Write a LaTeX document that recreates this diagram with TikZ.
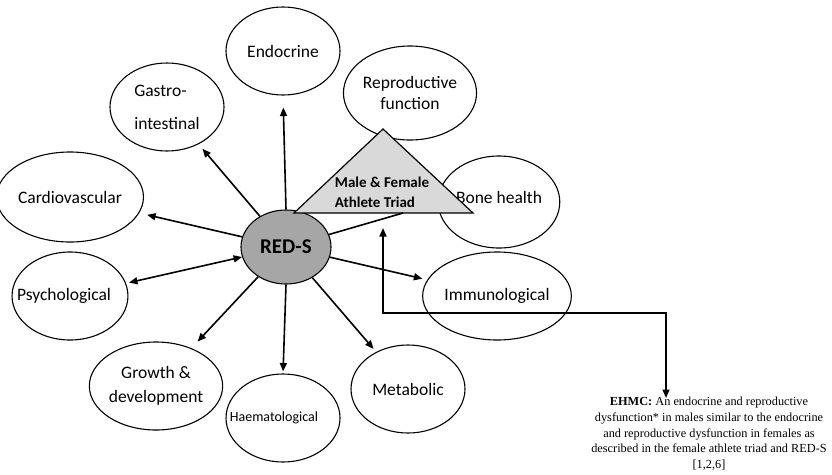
\documentclass[tikz,border=0pt]{standalone}
\usepackage{fontspec}
\setmainfont{Carlito}
\newfontfamily\timesf{Liberation Serif}
\usetikzlibrary{shapes.geometric,arrows.meta}
\definecolor{redsgray}{HTML}{A6A6A6}
\definecolor{trigray}{HTML}{D9D9D9}
\begin{document}
\begin{tikzpicture}[x=1pt,y=-1pt,
  bub/.style={draw,ellipse,line width=1.1pt,minimum width=114pt,minimum height=88pt,inner sep=0pt,
    font=\fontsize{17.5}{21}\selectfont,align=center},
  arr/.style={line width=1.6pt,-{Triangle[length=8.5pt,width=7pt]}},
  arrb/.style={line width=1.6pt,{Triangle[length=8.5pt,width=7pt]}-{Triangle[length=8.5pt,width=7pt]}},
  plain/.style={line width=1.6pt}]
\useasboundingbox (0,0) rectangle (832,474);

% outer ellipses
\node[bub] (endo) at (283,51) {Endocrine};
\node[bub,align=left,font=\fontsize{17.5}{33}\selectfont] (gastro) at (167,107) {Gastro-\\intestinal};
\node[bub,minimum height=94pt] (repro) at (410,93) {Reproductive\\function};
\node[bub,minimum height=90pt] (cardio) at (70,197) {Cardiovascular};
\node[bub,minimum height=92pt] (bone) at (499,202) {\raisebox{9pt}{Bone health}};
\node[bub] (psych) at (70,296) {\hspace*{-12pt}Psychological};
\node[bub] (immun) at (497,296) {\raisebox{-3pt}{Immunological}};
\node[bub,font=\fontsize{17.5}{24}\selectfont] (growth) at (156,386) {\raisebox{-4pt}{Growth \&}\\\raisebox{-4pt}{development}};
\node[bub,font=\fontsize{14}{17}\selectfont] (haem) at (283,418) {\hspace*{-18pt}\raisebox{2pt}{Haematological}};
\node[bub] (metab) at (408,389) {Metabolic};

% centre
\node[draw,ellipse,fill=redsgray,line width=1.1pt,minimum width=90pt,minimum height=74pt,inner sep=0pt,
  font=\bfseries\fontsize{21}{24}\selectfont] (reds) at (286,247) {RED-S};

% arrows from RED-S
\draw[arr,shorten >=12pt] (reds.north) -- (endo.south);
\draw[arr,shorten >=6pt] (reds) -- (gastro);
\draw[arr,shorten >=8pt] (reds) -- (cardio);
\draw[arrb,shorten >=3pt] (reds) -- (psych);
\draw[arr,shorten >=9pt] (reds) -- (growth);
\draw[arr,shorten >=2pt] (reds.south) -- (haem.north);
\draw[arr,shorten >=4pt] (reds) -- (metab);
\draw[arr,shorten >=5pt] (reds) -- (immun);

% triad triangle
\coordinate (tl) at (294,213);
\coordinate (tt) at (383,129);
\coordinate (tr) at (473,213);
\coordinate (tb) at (403,213);
\coordinate (tbot) at (383,228);
\draw[line width=1.2pt,fill=trigray] (tl) -- (tt) -- (tr) -- cycle;
\node[align=left,font=\bfseries\fontsize{15}{20}\selectfont] (triad) at (382,192) {Male \& Female\\Athlete Triad};
\draw[plain] (reds) -- (tb);

% EHMC
\node[anchor=north,align=center,inner sep=0pt,font=\timesf\fontsize{12.3}{15.7}\selectfont] (ehmc) at (709,397)
  {\textbf{EHMC:} An endocrine and reproductive\\
   dysfunction* in males similar to the endocrine\\
   and reproductive dysfunction in females as\\
   described in the female athlete triad and RED-S\\
   {[1,2,6]}};
\coordinate (ehmctip) at (666,398);
\draw[arrb] (tbot) -- ++(0,85) -| (ehmctip);
\end{tikzpicture}
\end{document}
